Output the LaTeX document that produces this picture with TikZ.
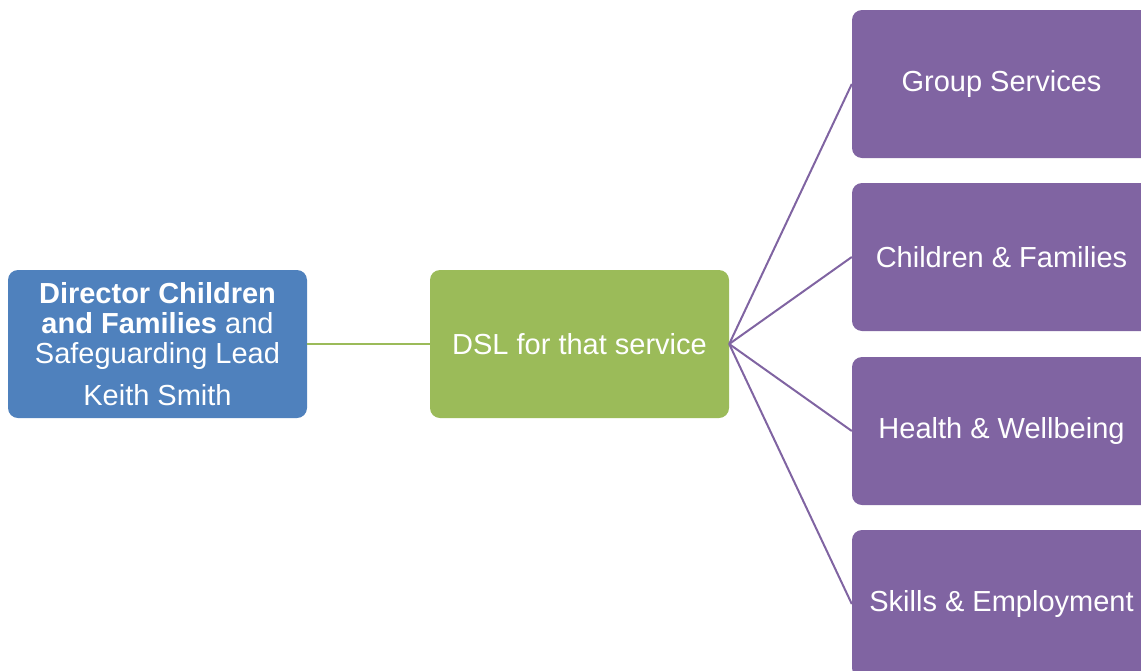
\documentclass[tikz,border=0pt]{standalone}
\usepackage{fontspec}
\setmainfont{Liberation Sans}
\definecolor{dirblue}{HTML}{4F81BD}
\definecolor{dslgreen}{HTML}{9BBB59}
\definecolor{svcpurple}{HTML}{8064A2}
\begin{document}
\begin{tikzpicture}[x=1pt,y=-1pt,
  box/.style={rounded corners=10pt, minimum width=299pt, minimum height=148pt,
    inner sep=0pt, text=white, align=center,
    font=\fontsize{29}{30}\selectfont},
  dirbox/.style={box, fill=dirblue},
  dslbox/.style={box, fill=dslgreen},
  svcbox/.style={box, fill=svcpurple},
  greenlink/.style={draw=dslgreen, line width=2pt},
  purplelink/.style={draw=svcpurple, line width=2pt}]
\useasboundingbox (0,0) rectangle (1141,670);
\clip (0,0) rectangle (1141,670);

\node[dirbox] (dir) at (157.5,344)
  {\textbf{Director Children}\\\textbf{and Families} and\\Safeguarding Lead\\[12pt]Keith Smith};
\node[dslbox] (dsl) at (579.5,344) {DSL for that service};

\node[svcbox] (grp) at (1001.5,84) {Group Services};
\node[svcbox] (cf)  at (1001.5,257) {Children \& Families};
\node[svcbox] (hw)  at (1001.5,431) {Health \& Wellbeing};
\node[svcbox] (se)  at (1001.5,604) {Skills \& Employment};

\draw[greenlink] (dir.east) -- (dsl.west);
\foreach \t in {grp,cf,hw,se}
  \draw[purplelink] (dsl.east) -- (\t.west);
\end{tikzpicture}
\end{document}
